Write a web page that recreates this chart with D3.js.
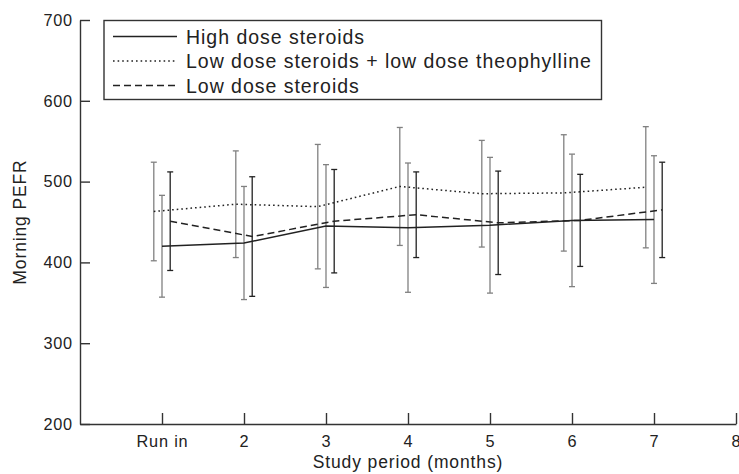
<!DOCTYPE html>
<html>
<head>
<meta charset="utf-8">
<script src="https://cdn.jsdelivr.net/npm/d3@7"></script>
<style>
  body { margin: 0; background: #fff; }
  svg { display: block; }
  text { font-family: "Liberation Sans", Arial, Helvetica, sans-serif; fill: #222; letter-spacing: 0.05em; }
</style>
</head>
<body>
<svg id="chart" width="739" height="474"></svg>
<script>
// ---- data ----
const tickLabels = ["Run in", "2", "3", "4", "5", "6", "7", "8"];
const tickValues = [1, 2, 3, 4, 5, 6, 7, 8];
const periods = [1, 2, 3, 4, 5, 6, 7];
const yTicks = [200, 300, 400, 500, 600, 700];

const highDose = [420, 424, 445, 443, 446, 452, 453];
const highDoseErr = [63, 70, 76, 80, 84, 82, 79];
const lowTheo = [463, 472, 469, 494, 485, 486, 493];
const lowTheoErr = [61, 66, 77, 73, 66, 72, 75];
const lowDose = [451, 432, 451, 459, 449, 452, 465];
const lowDoseErr = [61, 74, 64, 53, 64, 57, 59];

const seriesNames = ["High dose steroids", "Low dose steroids + low dose theophylline", "Low dose steroids"];

// ---- setup ----
const svg = d3.select("#chart");
const x = d3.scaleLinear().domain([0, 8]).range([80, 736]);
const y = d3.scaleLinear().domain([200, 700]).range([424, 20]);

const series = [
  { name: seriesNames[0], values: highDose, err: highDoseErr, offset: 0,    dash: null,      barColor: "#808080" },
  { name: seriesNames[1], values: lowTheo,  err: lowTheoErr,  offset: -0.1, dash: "1.6,3",   barColor: "#808080" },
  { name: seriesNames[2], values: lowDose,  err: lowDoseErr,  offset: 0.1,  dash: "7,4",     barColor: "#222" }
];

// axes
const xAxis = d3.axisBottom(x).tickValues(tickValues)
  .tickFormat((d, i) => tickLabels[i]).tickSizeInner(-11).tickSizeOuter(0).tickPadding(11);
const gx = svg.append("g").attr("transform", "translate(0,424)").call(xAxis);
gx.selectAll("text").style("font-size", "16.3px");

const yAxis = d3.axisLeft(y).tickValues(yTicks).tickSizeInner(-10).tickSizeOuter(0).tickPadding(7);
const gy = svg.append("g").attr("transform", "translate(80,0)").call(yAxis);
gy.selectAll("text").style("font-size", "16.3px");

svg.selectAll(".domain, .tick line").attr("stroke", "#333").attr("stroke-width", 1.4);

// axis titles
svg.append("text").attr("x", x(4)).attr("y", 468).attr("text-anchor", "middle")
  .style("font-size", "17.5px").text("Study period (months)");
svg.append("text").attr("transform", `translate(26,${y(450)}) rotate(-90)`).attr("text-anchor", "middle")
  .style("font-size", "17.5px").text("Morning PEFR");

// error bars
const cap = 3;
series.forEach(s => {
  const g = svg.append("g");
  periods.forEach((p, i) => {
    const cx = x(p + s.offset);
    const top = y(s.values[i] + s.err[i]);
    const bot = y(s.values[i] - s.err[i]);
    g.append("line").attr("x1", cx).attr("x2", cx).attr("y1", top).attr("y2", bot)
      .attr("stroke", s.barColor).attr("stroke-width", 1.3);
    g.append("line").attr("x1", cx - cap).attr("x2", cx + cap).attr("y1", top).attr("y2", top)
      .attr("stroke", s.barColor).attr("stroke-width", 1.3);
    g.append("line").attr("x1", cx - cap).attr("x2", cx + cap).attr("y1", bot).attr("y2", bot)
      .attr("stroke", s.barColor).attr("stroke-width", 1.3);
  });
});

// lines
const line = d3.line();
series.forEach(s => {
  const pts = periods.map((p, i) => [x(p + s.offset), y(s.values[i])]);
  svg.append("path").attr("d", line(pts)).attr("fill", "none")
    .attr("stroke", "#222").attr("stroke-width", 1.5)
    .attr("stroke-dasharray", s.dash);
});

// legend
const lg = svg.append("g");
lg.append("rect").attr("x", 104).attr("y", 20.5).attr("width", 497.5).attr("height", 79)
  .attr("fill", "#fff").attr("stroke", "#333").attr("stroke-width", 1.4);
const rowY = [36.5, 61, 85.5];
series.forEach((s, i) => {
  lg.append("line").attr("x1", 113).attr("x2", 177).attr("y1", rowY[i]).attr("y2", rowY[i])
    .attr("stroke", "#222").attr("stroke-width", 1.5).attr("stroke-dasharray", s.dash);
  lg.append("text").attr("x", 186).attr("y", rowY[i]).attr("dy", "0.36em")
    .style("font-size", "19.5px").text(s.name);
});
</script>
</body>
</html>
